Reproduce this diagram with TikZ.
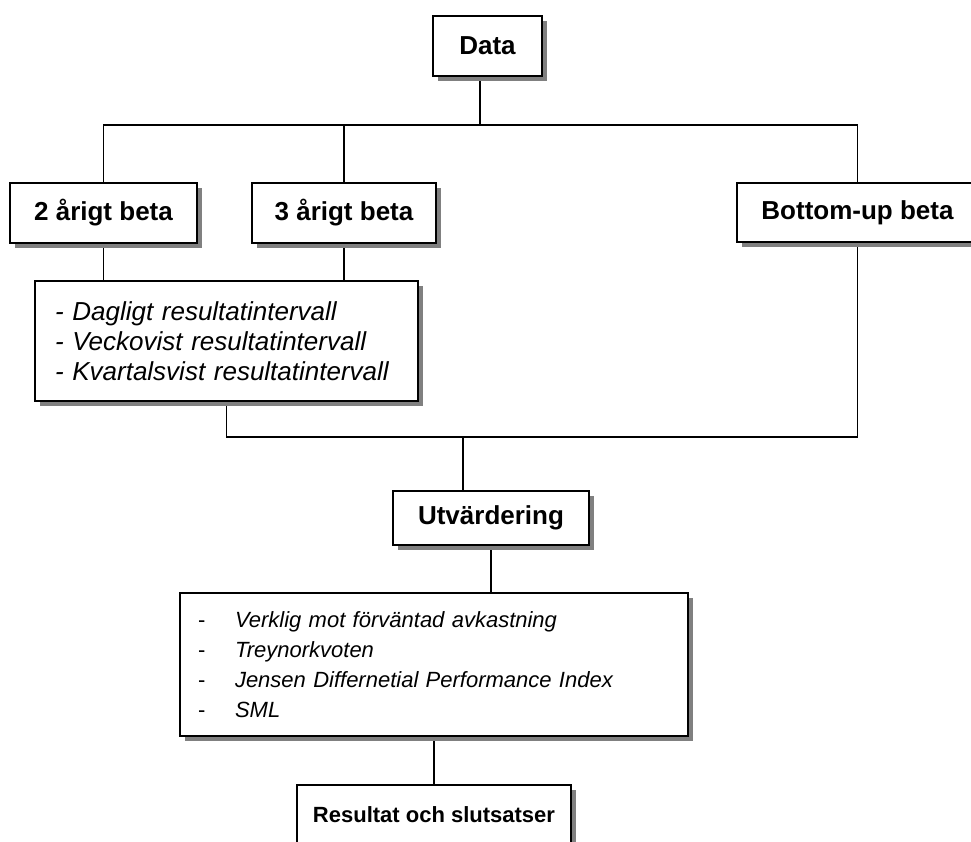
\documentclass[tikz,border=0pt]{standalone}
\usepackage{fontspec}
\setmainfont{Liberation Sans}
\usetikzlibrary{shadows,backgrounds}
\begin{document}
\begin{tikzpicture}[x=1pt,y=-1pt,
  box/.style={draw, line width=1.8pt, fill=white, inner sep=0pt,
    drop shadow={shadow xshift=5pt, shadow yshift=-5pt, fill=black!50, opacity=1}},
  big/.style={font=\fontsize{26}{30}\selectfont\bfseries},
  smallb/.style={font=\fontsize{22}{26}\selectfont\bfseries},
  wire/.style={line width=1.8pt}]
\useasboundingbox (0,0) rectangle (971,842);
\clip (0,0) rectangle (971,842);

\node[box,big,minimum width=109pt,minimum height=60pt] (data) at (487.5,46) {Data};
\node[box,big,minimum width=187pt,minimum height=60pt] (b2) at (103.5,213) {2 årigt beta};
\node[box,big,minimum width=184pt,minimum height=60pt] (b3) at (344,213) {3 årigt beta};
\node[box,big,minimum width=241pt,minimum height=59pt] (bu) at (857.5,212.5) {Bottom-up beta};
\node[box,font=\fontsize{26}{30}\selectfont\itshape,inner xsep=20pt,text width=343pt,
  align=left,minimum height=120pt] (l1) at (226.5,341)
  {- Dagligt resultatintervall\\- Veckovist resultatintervall\\- Kvartalsvist resultatintervall};
\node[box,big,minimum width=196pt,minimum height=54pt] (utv) at (491,518) {Utvärdering};
\node[box,font=\fontsize{22}{30}\selectfont,inner xsep=18pt,text width=472pt,
  align=left,minimum height=143pt] (l2) at (434,664.5)
  {\makebox[37pt][l]{-}\textit{Verklig mot förväntad avkastning}\\
   \makebox[37pt][l]{-}\textit{Treynorkvoten}\\
   \makebox[37pt][l]{-}\textit{Jensen Differnetial Performance Index}\\
   \makebox[37pt][l]{-}\textit{SML}};
\node[box,smallb,minimum width=274pt,minimum height=60pt] (res) at (434,815) {Resultat och slutsatser};

\begin{pgfonlayer}{background}
\coordinate (j1) at (480,125);
\coordinate (j2) at (463,437);
\draw[wire] (data.south -| j1) -- (j1);
\draw[wire] (b2.north) -- (b2.north |- j1) -- (bu.north |- j1) -- (bu.north);
\draw[wire] (b3.north) -- (b3.north |- j1);
\draw[wire] (b2.south) -- (b2.south |- l1.north);
\draw[wire] (b3.south) -- (b3.south |- l1.north);
\draw[wire] (l1.south) -- (l1.south |- j2) -- (bu.south |- j2) -- (bu.south);
\draw[wire] (j2) -- (j2 |- utv.north);
\draw[wire] (utv.south) -- (utv.south |- l2.north);
\draw[wire] (l2.south) -- (res.north);
\end{pgfonlayer}
\end{tikzpicture}
\end{document}
